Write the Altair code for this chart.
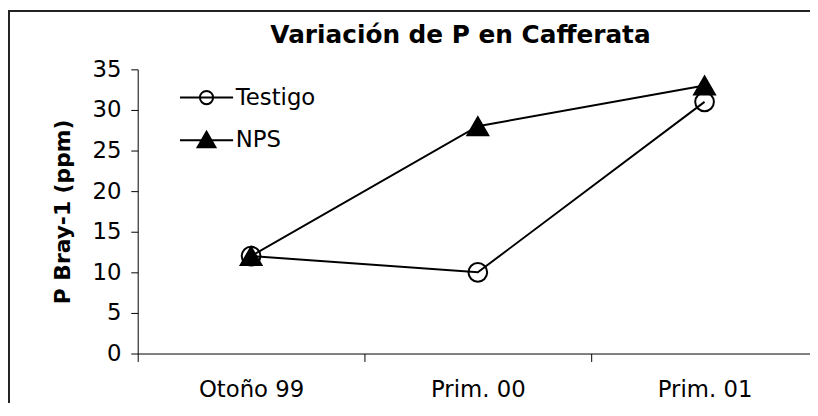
import altair as alt
import pandas as pd

titulo = "Variación de P en Cafferata"
eje_y = "P Bray-1 (ppm)"
categorias = ["Otoño 99", "Prim. 00", "Prim. 01"]
series = ["Testigo", "NPS"]
testigo = [12, 10, 31]
nps = [12, 28, 33]
ticks_y = [0, 5, 10, 15, 20, 25, 30, 35]

rows = []
for s, vals in zip(series, [testigo, nps]):
    for i, (c, v) in enumerate(zip(categorias, vals)):
        rows.append({"serie": s, "cat": c, "valor": v, "orden": i})
df = pd.DataFrame(rows)

W, H = 679, 287
FONT = "DejaVu Sans"

x = alt.X(
    "cat:N", sort=categorias, title=None,
    scale=alt.Scale(type="band", domain=categorias, range=[0, 687],
                    paddingInner=0, paddingOuter=0),
    axis=alt.Axis(tickBand="extent", labelAngle=0, labelFont=FONT, labelFontSize=23,
                  labelColor="black", labelPadding=17, tickSize=8, tickColor="black",
                  domainColor="black", tickWidth=1, domainWidth=1),
)
y = alt.Y(
    "valor:Q", title=eje_y,
    scale=alt.Scale(domain=[0, 35], nice=False, zero=True),
    axis=alt.Axis(values=ticks_y, grid=False, labelFont=FONT, labelFontSize=23,
                  labelColor="black", labelPadding=10, tickSize=7, tickColor="black",
                  domainColor="black", tickWidth=1, domainWidth=1,
                  titleFont=FONT, titleFontSize=22, titleFontWeight="bold",
                  titleColor="black", titlePadding=18),
)

base = alt.Chart(df)

lines = base.mark_line(color="black", strokeWidth=2).encode(
    x=x, y=y, detail="serie:N", order="orden:Q"
)

circ = "M0.9,0A0.9,0.9,0,1,1,-0.9,0A0.9,0.9,0,1,1,0.9,0Z"
tri = "M0,-0.866L-1,0.866L1,0.866Z"

points = base.mark_point(stroke="black", strokeWidth=2, opacity=1, size=441).encode(
    x=x, y=y,
    shape=alt.Shape("serie:N", scale=alt.Scale(domain=series, range=[circ, tri]), legend=None),
    fill=alt.Fill("serie:N", scale=alt.Scale(domain=series, range=["transparent", "black"]), legend=None),
)

# legend glyphs: line through marker (triangle drawn solid with stroked hatching)
leg_circ = "M-1.85,0L1.85,0M0.46,0A0.46,0.46,0,1,1,-0.46,0A0.46,0.46,0,1,1,0.46,0Z"
tri_parts = ["M-1.85,0L1.85,0", "M0,-0.58L-0.62,0.5L0.62,0.5Z"]
yy = -0.52
while yy < 0.51:
    hw = 0.62 * (yy + 0.58) / 1.08
    tri_parts.append(f"M{-hw:.3f},{yy:.3f}L{hw:.3f},{yy:.3f}")
    yy += 0.08
leg_tri = "".join(tri_parts)

leg = alt.Legend(
    orient="none", legendX=54, legendY=13, title=None, padding=0,
    symbolSize=841, symbolStrokeWidth=2,
    labelFont=FONT, labelFontSize=23, labelColor="black",
    labelOffset=14, rowPadding=15, symbolOpacity=1,
)

legend_layer = base.transform_filter("datum.valor < 0").mark_point(
    stroke="black", strokeWidth=2, opacity=1
).encode(
    shape=alt.Shape("serie:N", scale=alt.Scale(domain=series, range=[leg_circ, leg_tri]), legend=leg),
)

one = pd.DataFrame({"t": [titulo]})
title_mark = alt.Chart(one).mark_text(
    font=FONT, fontSize=25, fontWeight="bold", color="black", align="center", baseline="alphabetic"
).encode(text="t:N", x=alt.value(326), y=alt.value(-27))

border_left = alt.Chart(one).mark_rule(color="#222", strokeWidth=2).encode(
    x=alt.value(-130), y=alt.value(-59), y2=alt.value(340)
)
border_top = alt.Chart(one).mark_rule(color="#222", strokeWidth=2).encode(
    x=alt.value(-131), x2=alt.value(700), y=alt.value(-59)
)

chart = alt.layer(
    lines, points, legend_layer, title_mark, border_left, border_top
).resolve_scale(
    shape="independent", fill="independent"
).properties(
    width=W, height=H,
    autosize=alt.AutoSizeParams(type="none"),
    padding={"left": 131, "top": 60, "right": 0, "bottom": 48},
).configure_view(stroke=None)

chart.save("out.html", embed_options={"renderer": "svg", "actions": False})
